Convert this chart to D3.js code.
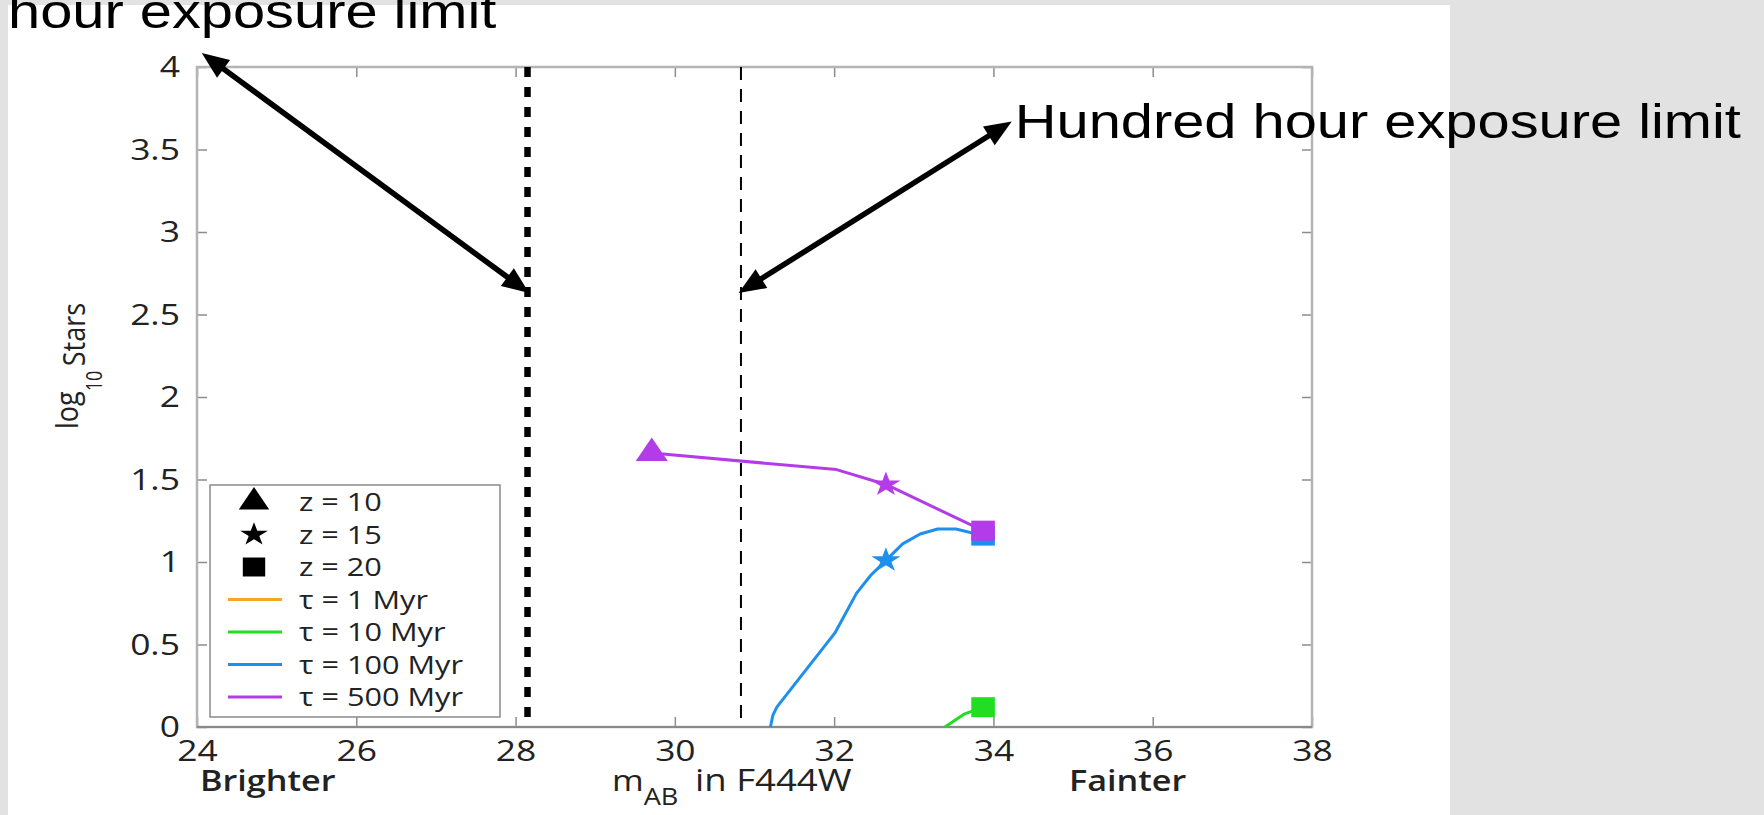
<!DOCTYPE html>
<html>
<head>
<meta charset="utf-8">
<script src="https://cdn.jsdelivr.net/npm/d3@7"></script>
<style>
  html, body { margin: 0; padding: 0; background: #e2e2e2; overflow: hidden; }
  svg { display: block; }
</style>
</head>
<body>
<svg class="board" width="1764" height="815"></svg>
<script>
var xTicks = [24, 26, 28, 30, 32, 34, 36, 38];
var yTicks = [0, 0.5, 1, 1.5, 2, 2.5, 3, 3.5, 4];

// tau = 500 Myr track (magnitude, log10 stars, redshift marker)
var mag500 = [29.71, 32.03, 32.65, 33.87];
var logStars500 = [1.66, 1.56, 1.47, 1.19];
var z500 = [10, null, 15, 20];

// tau = 100 Myr track
var mag100 = [31.2, 31.23, 31.28, 32.01, 32.28, 32.46, 32.65, 32.86, 33.08, 33.3, 33.53, 33.87];
var logStars100 = [0, 0.07, 0.12, 0.57, 0.81, 0.92, 1.01, 1.11, 1.17, 1.2, 1.2, 1.16];
var z100 = [null, null, null, null, null, null, 15, null, null, null, null, 20];

// tau = 10 Myr track
var mag10 = [33.39, 33.64, 33.87];
var logStars10 = [0, 0.08, 0.12];
var z10 = [null, null, 20];

var redshifts = [10, 15, 20];
var lifetimes = ['1 Myr', '10 Myr', '100 Myr', '500 Myr'];

var exposureLimits = [28.15, 30.83];
var limitLabels = ['hour exposure limit', 'Hundred hour exposure limit'];
// double headed arrows, [[mag, log stars], [mag, log stars]]
var shortArrow = [[28.17, 2.63], [24.06, 4.085]];
var longArrow = [[30.8, 2.63], [34.23, 3.67]];

var lifetimeColors = ['#f5a623', '#22dd22', '#1e8fec', '#b43ce8'];
var symbolForZ = {10: d3.symbolTriangle, 15: d3.symbolStar, 20: d3.symbolSquare};
var sizeForZ = {10: 320, 15: 190, 20: 400};
var STRETCH = 1.18;
var FONT = '"Open Sans", sans-serif';
var ARIAL = '"Liberation Sans", Arial, sans-serif';

var svg = d3.select('.board');
var x = d3.scaleLinear().domain([24, 38]).range([197, 1312]);
var y = d3.scaleLinear().domain([0, 4]).range([727, 67]);

function stretched(px, py) {
  return `translate(${px},${py}) scale(${STRETCH},1)`;
}

svg.append('rect')
  .attr('x', 8).attr('y', 5)
  .attr('width', 1442).attr('height', 810)
  .attr('fill', '#fff');

var defs = svg.append('defs');
defs.append('marker')
  .attr('id', 'head')
  .attr('markerUnits', 'userSpaceOnUse')
  .attr('viewBox', '-20 -12 32 24')
  .attr('refX', 0).attr('refY', 0)
  .attr('markerWidth', 32).attr('markerHeight', 24)
  .attr('orient', 'auto-start-reverse')
  .append('path')
  .attr('d', 'M10,0L-17,-11L-17,11Z')
  .attr('fill', '#000');

// axes, ticks inside the box
function styleAxis(g) {
  g.select('.domain').remove();
  g.selectAll('.tick line').attr('stroke', '#8c8c8c').attr('stroke-width', 1.5);
  g.selectAll('text')
    .attr('fill', '#222')
    .attr('font-family', FONT)
    .attr('font-size', 30);
}

var fmt = d3.format('~g');
svg.append('g')
  .attr('transform', 'translate(0,727)')
  .call(d3.axisBottom(x).tickValues(xTicks).tickSize(-10).tickPadding(13).tickFormat(fmt))
  .call(styleAxis)
  .selectAll('text').attr('transform', `scale(${STRETCH},1)`);

svg.append('g')
  .attr('transform', 'translate(197,0)')
  .call(d3.axisLeft(y).tickValues(yTicks).tickSize(-10).tickPadding(14.5).tickFormat(fmt))
  .call(styleAxis)
  .selectAll('text').attr('transform', `scale(${STRETCH},1)`);

svg.append('g')
  .attr('transform', 'translate(0,67)')
  .call(d3.axisTop(x).tickValues(xTicks).tickSize(-10).tickFormat(''))
  .call(styleAxis);

svg.append('g')
  .attr('transform', 'translate(1312,0)')
  .call(d3.axisRight(y).tickValues(yTicks).tickSize(-10).tickFormat(''))
  .call(styleAxis);

svg.append('rect')
  .attr('x', x(24)).attr('y', y(4))
  .attr('width', x(38) - x(24)).attr('height', y(0) - y(4))
  .attr('fill', 'none')
  .attr('stroke', '#b4b4b4')
  .attr('stroke-width', 2.5);
svg.append('line')
  .attr('x1', x(24)).attr('x2', x(38))
  .attr('y1', y(0)).attr('y2', y(0))
  .attr('stroke', '#8a8a8a')
  .attr('stroke-width', 2);

// axis titles
var yTitle = svg.append('text')
  .attr('transform', `translate(78,366) scale(${STRETCH},1) rotate(-90)`)
  .attr('text-anchor', 'middle')
  .attr('font-family', FONT)
  .attr('font-size', 27)
  .attr('fill', '#222');
yTitle.append('tspan').text('log');
yTitle.append('tspan').attr('dy', 20).attr('font-size', 18).text('10');
yTitle.append('tspan').attr('dy', -14).text('\u2009Stars');

svg.append('text')
  .attr('transform', stretched(200, 791))
  .attr('font-family', FONT).attr('font-size', 29).attr('font-weight', 600)
  .attr('fill', '#222')
  .text('Brighter');
svg.append('text')
  .attr('transform', stretched(1069, 791))
  .attr('font-family', FONT).attr('font-size', 29).attr('font-weight', 600)
  .attr('fill', '#222')
  .text('Fainter');
var mTitle = svg.append('text')
  .attr('transform', stretched(612, 791))
  .attr('font-family', FONT).attr('font-size', 29)
  .attr('fill', '#222');
mTitle.append('tspan').text('m');
mTitle.append('tspan').attr('dy', 14).attr('font-size', 23).text('AB');
svg.append('text')
  .attr('transform', stretched(695, 791))
  .attr('font-family', FONT).attr('font-size', 31)
  .attr('fill', '#222')
  .text('in F444W');

// exposure limits
svg.selectAll('.limit')
  .data(exposureLimits)
  .enter()
  .append('line')
  .classed('limit', true)
  .attr('x1', d => x(d)).attr('x2', d => x(d))
  .attr('y1', y(4)).attr('y2', y(0))
  .attr('stroke', '#000')
  .attr('stroke-width', (d, i) => i === 0 ? 6.5 : 2)
  .attr('stroke-dasharray', (d, i) => i === 0 ? '10,10' : '13,9');

// model tracks
var tracks = [
  {mag: mag10, stars: logStars10, z: z10, color: lifetimeColors[1]},
  {mag: mag100, stars: logStars100, z: z100, color: lifetimeColors[2]},
  {mag: mag500, stars: logStars500, z: z500, color: lifetimeColors[3]}
];
var line = d3.line().x(d => x(d[0])).y(d => y(d[1]));

tracks.forEach(function(track) {
  var points = track.mag.map((m, i) => [m, track.stars[i], track.z[i]]);
  svg.append('path')
    .attr('d', line(points))
    .attr('fill', 'none')
    .attr('stroke', track.color)
    .attr('stroke-width', 3)
    .attr('stroke-linejoin', 'round');
  svg.selectAll(null)
    .data(points.filter(p => p[2] !== null))
    .enter()
    .append('path')
    .attr('d', p => d3.symbol(symbolForZ[p[2]], sizeForZ[p[2]])())
    .attr('transform', p => stretched(x(p[0]), y(p[1])))
    .attr('fill', track.color);
});

// legend
var legend = svg.append('g');
legend.append('rect')
  .attr('x', 210).attr('y', 485)
  .attr('width', 290).attr('height', 232)
  .attr('fill', '#fff')
  .attr('stroke', '#8a8a8a')
  .attr('stroke-width', 1.5);
var rowY = d3.scalePoint().domain(d3.range(redshifts.length + lifetimes.length)).range([502, 697]);

redshifts.forEach(function(z, i) {
  legend.append('path')
    .attr('d', d3.symbol(symbolForZ[z], sizeForZ[z] * 0.9)())
    .attr('transform', stretched(254, rowY(i)))
    .attr('fill', '#000');
  legend.append('text')
    .attr('transform', stretched(299, rowY(i)))
    .attr('dy', '0.35em')
    .attr('font-family', FONT).attr('font-size', 26).attr('fill', '#222')
    .text(`z = ${z}`);
});
lifetimes.forEach(function(tau, i) {
  var ry = rowY(redshifts.length + i);
  legend.append('line')
    .attr('x1', 228).attr('x2', 282)
    .attr('y1', ry).attr('y2', ry)
    .attr('stroke', lifetimeColors[i])
    .attr('stroke-width', 3);
  legend.append('text')
    .attr('transform', stretched(299, ry))
    .attr('dy', '0.35em')
    .attr('font-family', FONT).attr('font-size', 26).attr('fill', '#222')
    .text(`\u03c4 = ${tau}`);
});

// annotation arrows
function shorten(p0, p1, d) {
  var dx = p1[0] - p0[0];
  var dy = p1[1] - p0[1];
  var len = Math.sqrt(dx * dx + dy * dy);
  return [p0[0] + dx * d / len, p0[1] + dy * d / len];
}

[shortArrow, longArrow].forEach(function(arrow) {
  var a = [x(arrow[0][0]), y(arrow[0][1])];
  var b = [x(arrow[1][0]), y(arrow[1][1])];
  var s = shorten(a, b, 10);
  var e = shorten(b, a, 10);
  svg.append('line')
    .attr('x1', s[0]).attr('y1', s[1])
    .attr('x2', e[0]).attr('y2', e[1])
    .attr('stroke', '#000')
    .attr('stroke-width', 5.5)
    .attr('marker-start', 'url(#head)')
    .attr('marker-end', 'url(#head)');
});

svg.append('text')
  .attr('transform', stretched(8, 28))
  .attr('font-family', ARIAL)
  .attr('font-size', 49)
  .attr('fill', '#000')
  .text(limitLabels[0]);
svg.append('text')
  .attr('transform', stretched(x(longArrow[1][0]) + 3, y(longArrow[1][1]) + 17))
  .attr('font-family', ARIAL)
  .attr('font-size', 49)
  .attr('fill', '#000')
  .text(limitLabels[1]);
</script>
</body>
</html>
